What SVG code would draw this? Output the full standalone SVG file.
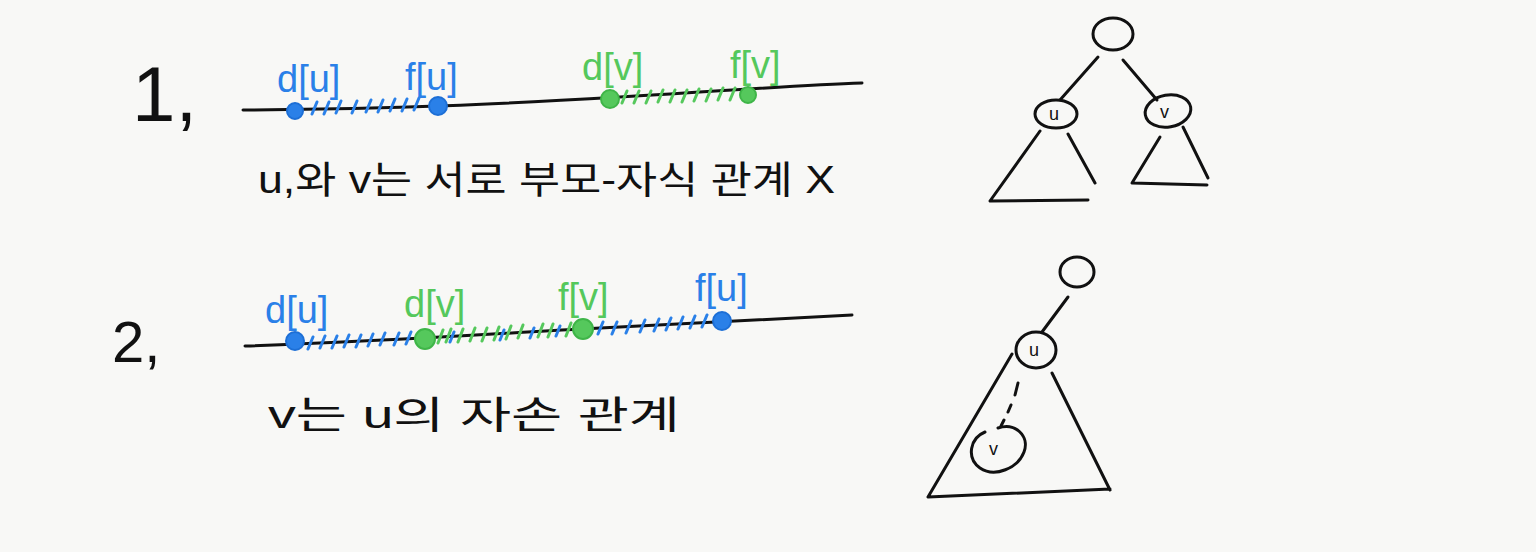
<svg xmlns="http://www.w3.org/2000/svg" width="1536" height="552" viewBox="0 0 1536 552">
<style>
.ink{fill:none;stroke:#111;stroke-width:3;stroke-linecap:round;stroke-linejoin:round}
.blue{fill:none;stroke:#2a80e8;stroke-width:3;stroke-linecap:round}
.green{fill:none;stroke:#55c85c;stroke-width:3;stroke-linecap:round}
.bdot{fill:#2a80e8;stroke:#1d6fd6;stroke-width:2}
.gdot{fill:#55c85c;stroke:#3fb548;stroke-width:2}
.lb{font-family:"Liberation Sans","Noto Sans",sans-serif;font-size:38px;fill:#2a80e8}
.lg{font-family:"Liberation Sans","Noto Sans",sans-serif;font-size:38px;fill:#55c85c}
.num{font-family:"Liberation Sans","Noto Sans",sans-serif;fill:#111}
.kr{font-family:"Liberation Sans","Noto Sans CJK KR",sans-serif;font-size:38px;fill:#111}
.nl{font-family:"Liberation Sans","Noto Sans",sans-serif;font-size:18px;fill:#111}
</style>
<rect width="1536" height="552" fill="#f8f8f6"/>

<g id="row1">
<text class="num" x="132" y="121" font-size="78">1,</text>
<path class="ink" d="M243,110 C400,109 500,104 620,97 S800,85 862,83"/>
<path class="blue" d="M312,114 l5,-12 M324,114 l5,-12 M336,113 l5,-12 M352,113 l5,-12 M366,112 l5,-12 M378,112 l5,-12 M390,111 l5,-12 M402,111 l5,-12 M414,110 l5,-12"/>
<path class="green" d="M622,103 l5,-12 M634,103 l5,-12 M646,103 l5,-12 M658,102 l5,-12 M670,102 l5,-12 M682,102 l5,-12 M694,101 l5,-12 M706,101 l5,-12 M718,100 l5,-12 M730,100 l5,-12"/>
<circle class="bdot" cx="295" cy="111" r="8"/>
<circle class="bdot" cx="438" cy="106" r="9"/>
<circle class="gdot" cx="610" cy="99" r="9"/>
<circle class="gdot" cx="748" cy="95" r="8"/>
<text class="lb" x="277" y="92">d[u]</text>
<text class="lb" x="405" y="90">f[u]</text>
<text class="lg" x="582" y="80">d[v]</text>
<text class="lg" x="730" y="78">f[v]</text>
<text class="kr" x="258" y="193" textLength="577" lengthAdjust="spacingAndGlyphs">u,와 v는 서로 부모-자식 관계 X</text>
</g>

<g id="row2">
<text class="num" x="112" y="362" font-size="58">2,</text>
<path class="ink" d="M245,346 C400,341 500,333 600,328 S800,317 852,315"/>
<path class="blue" d="M308,349 l5,-12 M320,348 l5,-12 M332,348 l5,-12 M344,347 l5,-12 M356,347 l5,-12 M368,346 l5,-12 M380,345 l5,-12 M394,345 l5,-12 M406,344 l5,-12 M450,342 l4,-10 M500,340 l4,-10 M530,338 l4,-10 M556,336 l4,-10 M598,334 l5,-12 M612,334 l5,-12 M626,333 l5,-12 M640,332 l5,-12 M654,331 l5,-12 M666,330 l5,-12 M678,329 l5,-12 M690,328 l5,-12 M702,327 l5,-12"/>
<path class="green" d="M438,343 l5,-13 M446,342 l5,-13 M458,342 l5,-13 M470,341 l5,-13 M482,341 l5,-13 M494,340 l5,-13 M506,339 l5,-13 M518,338 l5,-13 M538,337 l5,-13 M548,337 l5,-13 M566,336 l5,-13"/>
<circle class="bdot" cx="295" cy="341" r="9"/>
<circle class="gdot" cx="425" cy="339" r="10"/>
<circle class="gdot" cx="583" cy="329" r="10"/>
<circle class="bdot" cx="722" cy="321" r="9"/>
<text class="lb" x="265" y="323">d[u]</text>
<text class="lg" x="404" y="317">d[v]</text>
<text class="lg" x="558" y="310">f[v]</text>
<text class="lb" x="695" y="301">f[u]</text>
<text class="kr" x="268" y="428" textLength="412" lengthAdjust="spacingAndGlyphs">v는  u의  자손  관계</text>
</g>

<g id="connectors">
<path class="ink" d="M1098,57 L1060,100"/>
<path class="ink" d="M1123,60 L1157,100"/>
<path class="ink" d="M1068,297 L1042,332"/>
<path class="ink" d="M1018,383 L1015,395 M1011,405 L1008,412 M1004,420 L1001,426"/>
</g>

<g id="tree1-root"><ellipse class="ink" cx="1113" cy="34" rx="20" ry="16"/></g>
<g id="tree1-u">
<ellipse class="ink" cx="1056" cy="114" rx="21" ry="14"/>
<text class="nl" x="1049" y="120">u</text>
<path class="ink" d="M1040,131 L990,201 L1088,200 M1068,134 L1095,183"/>
</g>
<g id="tree1-v">
<ellipse class="ink" cx="1168" cy="111" rx="23" ry="16" transform="rotate(-10 1168 111)"/>
<text class="nl" x="1160" y="118">v</text>
<path class="ink" d="M1160,137 L1132,183 L1207,185 M1183,127 L1208,178"/>
</g>

<g id="tree2-root"><ellipse class="ink" cx="1077" cy="272" rx="17" ry="15"/></g>
<g id="tree2-u">
<ellipse class="ink" cx="1036" cy="350" rx="20" ry="18"/>
<text class="nl" x="1029" y="356">u</text>
<path class="ink" d="M1012,354 L928,497 L1110,489 M1052,373 L1110,490"/>
</g>
<g id="tree2-v">
<path class="ink" d="M985,432 C970,438 966,458 980,468 C995,478 1018,468 1024,452 C1030,436 1015,422 998,428"/>
<text class="nl" x="989" y="455">v</text>
</g>
</svg>
